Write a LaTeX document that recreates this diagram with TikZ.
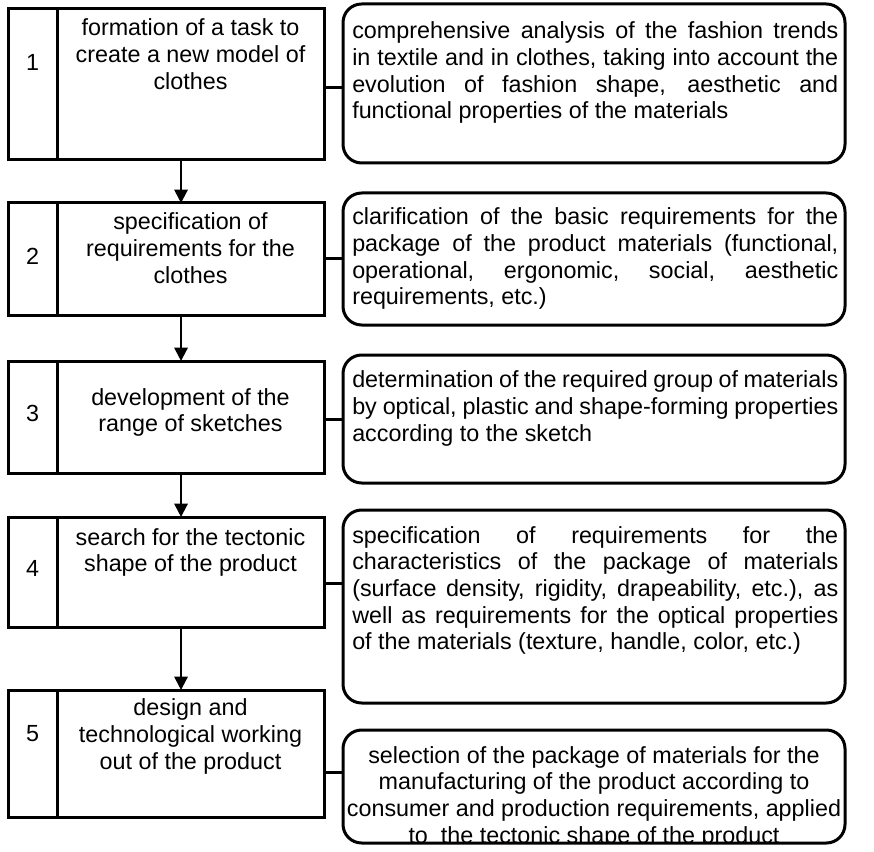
\documentclass[tikz,border=0pt]{standalone}
\usepackage{fontspec}
\setmainfont{Liberation Sans}
\usetikzlibrary{arrows.meta,fit}

% one fully justified line of a note
\newcommand{\jline}[1]{\makebox[364.5pt][s]{#1}}

\begin{document}
\begin{tikzpicture}[x=0.75pt,y=-0.75pt,
  cell/.style={draw,line width=2.25pt,inner sep=0pt,outer sep=0pt},
  note/.style={draw,line width=2.25pt,rounded corners=14pt,inner sep=0pt,outer sep=0pt},
  steptext/.style={font=\fontsize{17.5}{20}\selectfont,align=center,inner sep=0pt,anchor=base},
  numtext/.style={font=\fontsize{17.5}{20}\selectfont,inner sep=0pt,anchor=base},
  notetext/.style={font=\fontsize{17.5}{20}\selectfont,align=left,inner sep=0pt,anchor=base west},
  flow/.style={line width=1.5pt,-{Triangle[length=10pt,width=10pt]}},
  link/.style={line width=2.25pt}]

\useasboundingbox (0,0) rectangle (874,852);

% step boxes: number cell + description cell
\node (N1) [cell,fit={(8,9)(57,160)}] {};
\node (M1) [cell,fit={(57,9)(324,160)}] {};
\node (N2) [cell,fit={(8,203)(57,315)}] {};
\node (M2) [cell,fit={(57,203)(324,315)}] {};
\node (N3) [cell,fit={(8,361)(57,473)}] {};
\node (M3) [cell,fit={(57,361)(324,473)}] {};
\node (N4) [cell,fit={(8,517)(57,627)}] {};
\node (M4) [cell,fit={(57,517)(324,627)}] {};
\node (N5) [cell,fit={(8,690)(57,817)}] {};
\node (M5) [cell,fit={(57,690)(324,817)}] {};

\node (n1) [numtext] at (32.5,71) {1};
\node (n2) [numtext] at (32.5,264) {2};
\node (n3) [numtext] at (32.5,421) {3};
\node (n4) [numtext] at (32.5,576) {4};
\node (n5) [numtext] at (32.5,741) {5};

% texts are anchored at the baseline of their last line
\node (t1) [steptext] at (190.5,89.3) {formation of a task to\\create a new model of\\clothes};
\node (t2) [steptext] at (190.5,283.3) {specification of\\requirements for the\\clothes};
\node (t3) [steptext] at (190.5,431.7) {development of the\\range of sketches};
\node (t4) [steptext] at (190.5,571.7) {search for the tectonic\\shape of the product};
\node (t5) [steptext] at (190.5,769.3) {design and\\technological working\\out of the product};

% material notes
\node (R1) [note,fit={(343,4)(845,163)}] {};
\node (R2) [note,fit={(343,193)(845,325)}] {};
\node (R3) [note,fit={(343,355)(845,483)}] {};
\node (R4) [note,fit={(343,510)(845,703)}] {};
\node (R5) [note,fit={(343,730)(845,843)}] {};

\node (r1) [notetext] at (352,119) {\jline{comprehensive analysis of the fashion trends}\\
  \jline{in textile and in clothes, taking into account the}\\
  \jline{evolution of fashion shape, aesthetic and}\\
  functional properties of the materials};
\node (r2) [notetext] at (352,305) {\jline{clarification of the basic requirements for the}\\
  \jline{package of the product materials (functional,}\\
  \jline{operational, ergonomic, social, aesthetic}\\
  requirements, etc.)};
\node (r3) [notetext] at (352,441.3) {\jline{determination of the required group of materials}\\
  \jline{by optical, plastic and shape-forming properties}\\
  according to the sketch};
\node (r4) [notetext] at (352,649.7) {\jline{specification of requirements for the}\\
  \jline{characteristics of the package of materials}\\
  \jline{(surface density, rigidity, drapeability, etc.), as}\\
  \jline{well as requirements for the optical properties}\\
  of the materials (texture, handle, color, etc.)};
\begin{scope}
  \clip (R5.south west) rectangle (R5.north east);
  \node (r5) [steptext] at (594,843) {selection of the package of materials for the\\
    manufacturing of the product according to\\
    consumer and production requirements, applied\\
    to~ the tectonic shape of the product};
\end{scope}

% flow between steps
\draw[flow] ([xshift=-7.1pt]M1.south) -- ([xshift=-7.1pt]M2.north);
\draw[flow] ([xshift=-7.1pt]M2.south) -- ([xshift=-7.1pt]M3.north);
\draw[flow] ([xshift=-7.1pt]M3.south) -- ([xshift=-7.1pt]M4.north);
\draw[flow] ([xshift=-7.1pt]M4.south) -- ([xshift=-7.1pt]M5.north);

% links from steps to notes
\draw[link] ([yshift=-1.9pt]M1.east) -- ([yshift=-1.9pt]M1.east -| R1.west);
\draw[link] (M2.east) -- (M2.east -| R2.west);
\draw[link] ([yshift=-1.5pt]M3.east) -- ([yshift=-1.5pt]M3.east -| R3.west);
\draw[link] ([yshift=-8.25pt]M4.east) -- ([yshift=-8.25pt]M4.east -| R4.west);
\draw[link] ([yshift=-13.9pt]M5.east) -- ([yshift=-13.9pt]M5.east -| R5.west);
\end{tikzpicture}
\end{document}
